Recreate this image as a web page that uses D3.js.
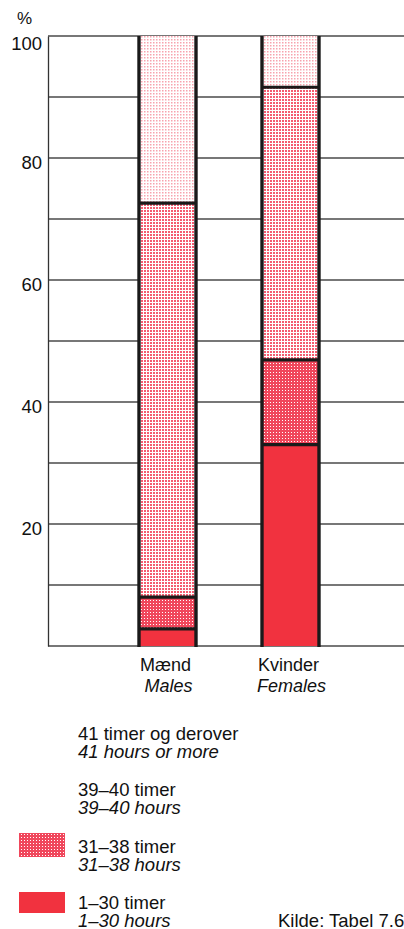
<!DOCTYPE html>
<html><head><meta charset="utf-8">
<script src="https://cdn.jsdelivr.net/npm/d3@7"></script>
<style>
html,body{margin:0;padding:0;background:#fff;}
svg{display:block;font-family:"Liberation Sans",Arial,Helvetica,sans-serif;}
</style></head>
<body>
<script>
// ---- data ----
const categories = ["Mænd", "Kvinder"];
const categoriesEn = ["Males", "Females"];
const seriesKeys = ["1–30", "31–38", "39–40", "41+"];
const males   = [2.8, 5.2, 64.6, 27.4];
const females = [33.0, 13.9, 44.7, 8.4];
const yTicks = [20, 40, 60, 80, 100];
const gridTicks = [0,10,20,30,40,50,60,70,80,90,100];
const legendDa = ["41 timer og derover", "39–40 timer", "31–38 timer", "1–30 timer"];
const legendEn = ["41 hours or more", "39–40 hours", "31–38 hours", "1–30 hours"];
const legendKeys = ["41+", "39–40", "31–38", "1–30"];
const source = "Kilde: Tabel 7.6";

const W = 404, H = 929;
const svg = d3.select("body").append("svg").attr("width", W).attr("height", H);

// patterns
const defs = svg.append("defs");
function pat(id, bg, fg, size) {
  const p = defs.append("pattern").attr("id", id).attr("width", 3).attr("height", 3)
    .attr("patternUnits", "userSpaceOnUse");
  p.append("rect").attr("width", 3).attr("height", 3).attr("fill", bg);
  p.append("rect").attr("width", size).attr("height", size).attr("fill", fg);
}
pat("p41", "#fff", "#f7a3ae", 1.5);
pat("p39", "#fff", "#f45c70", 2);
// checker for 31-38
(function(){
  const p = defs.append("pattern").attr("id", "p31").attr("width", 3).attr("height", 3)
    .attr("patternUnits", "userSpaceOnUse");
  p.append("rect").attr("width", 3).attr("height", 3).attr("fill", "#f0475c");
  p.append("rect").attr("width", 1).attr("height", 1).attr("fill", "#fff");
})();
const fills = {"1–30": "#f1323f", "31–38": "url(#p31)", "39–40": "url(#p39)", "41+": "url(#p41)"};

const y = d3.scaleLinear().domain([0, 100]).range([646, 36]);
const x = d3.scalePoint().domain(categories).range([167.5, 290.5]);
const barW = 57;
const axisX = 48;

// gridlines
svg.append("g").selectAll("line").data(gridTicks).join("line")
  .attr("x1", axisX).attr("x2", W)
  .attr("y1", d => y(d)).attr("y2", d => y(d))
  .attr("stroke", "#4a4a4a").attr("stroke-width", 1.3);

// y axis
const yAxis = d3.axisLeft(y).tickValues(yTicks).tickSize(0).tickPadding(6);
const ga = svg.append("g").attr("transform", `translate(${axisX},0)`).call(yAxis);
ga.select(".domain").attr("stroke", "#333").attr("stroke-width", 1.3);
ga.selectAll("text").attr("font-size", 18.5).attr("fill", "#111")
  .attr("font-family", "Liberation Sans, Arial, sans-serif").attr("dy", "0.55em");
ga.selectAll(".tick").filter(d => d === 100).select("text").attr("dy", "0.72em");

svg.append("text").attr("x", 17).attr("y", 24).attr("font-size", 17).attr("fill", "#111").text("%");

// stacked bars
const rows = categories.map((c, i) => {
  const o = {cat: c};
  const vals = i === 0 ? males : females;
  seriesKeys.forEach((k, j) => o[k] = vals[j]);
  return o;
});
const stack = d3.stack().keys(seriesKeys)(rows);

const gBars = svg.append("g");
stack.forEach(s => {
  gBars.selectAll(null).data(s).join("rect")
    .attr("x", d => x(d.data.cat) - barW / 2)
    .attr("width", barW)
    .attr("y", d => y(d[1]))
    .attr("height", d => y(d[0]) - y(d[1]))
    .attr("fill", fills[s.key]);
});
// internal boundaries
stack.slice(0, -1).forEach(s => {
  gBars.selectAll(null).data(s).join("line")
    .attr("x1", d => x(d.data.cat) - barW / 2).attr("x2", d => x(d.data.cat) + barW / 2)
    .attr("y1", d => y(d[1])).attr("y2", d => y(d[1]))
    .attr("stroke", "#1a1a1a").attr("stroke-width", 3.2);
});
// bar side edges
categories.forEach(c => {
  [-1, 1].forEach(sgn => {
    gBars.append("line")
      .attr("x1", x(c) + sgn * barW / 2).attr("x2", x(c) + sgn * barW / 2)
      .attr("y1", y(100)).attr("y2", y(0) + 1)
      .attr("stroke", "#1a1a1a").attr("stroke-width", 3.4);
  });
});

// category labels
categories.forEach((c, i) => {
  svg.append("text").attr("x", x(c) - 2).attr("y", 671).attr("text-anchor", "middle")
    .attr("font-size", 18).attr("fill", "#111").text(c);
  svg.append("text").attr("x", x(c) + 1).attr("y", 692).attr("text-anchor", "middle")
    .attr("font-size", 18).attr("font-style", "italic").attr("fill", "#111").text(categoriesEn[i]);
});

// legend
const legY = [740, 796, 853, 909];
legendKeys.forEach((k, i) => {
  const swatch = (k === "31–38" || k === "1–30") ? fills[k] : "#fff";
  const sy = i < 2 ? legY[i] - 12 : (i === 2 ? 833 : 892);
  svg.append("rect").attr("x", 19).attr("y", sy).attr("width", 46).attr("height", i === 3 ? 21 : 24)
    .attr("fill", swatch);
  svg.append("text").attr("x", 78).attr("y", legY[i]).attr("font-size", 18.5).attr("fill", "#111")
    .text(legendDa[i]);
  svg.append("text").attr("x", 78).attr("y", legY[i] + 17.5).attr("font-size", 18.5)
    .attr("font-style", "italic").attr("fill", "#111").text(legendEn[i]);
});
svg.append("text").attr("x", 278).attr("y", 927).attr("font-size", 18.5).attr("fill", "#111").text(source);
</script>
</body></html>
